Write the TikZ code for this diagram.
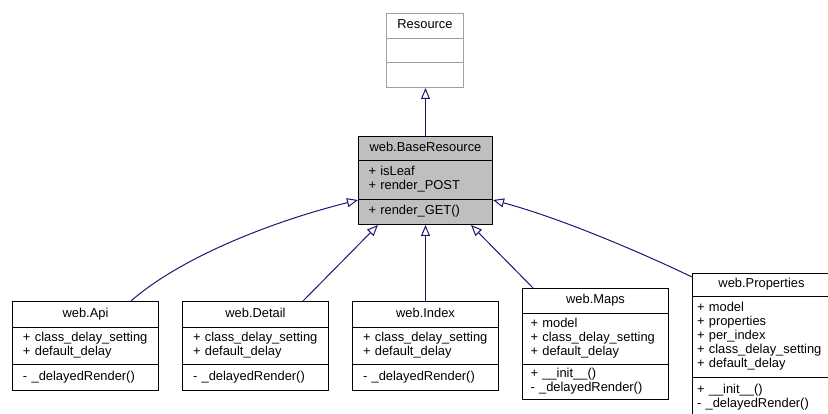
\documentclass[tikz,border=0pt]{standalone}
\usepackage{fontspec}
\setmainfont{Liberation Sans}
\usetikzlibrary{arrows.meta}
\definecolor{edgec}{RGB}{25,25,112}
\definecolor{basefill}{RGB}{191,191,191}
\definecolor{graybd}{RGB}{160,160,160}
\newcommand{\clsfont}{\fontsize{12.9pt}{14pt}\selectfont}
\begin{document}
\begin{tikzpicture}[x=1pt, y=-1pt,
  box/.style={draw=black, line width=1pt, rectangle, anchor=north west, inner ysep=0pt,
    font=\clsfont, execute at begin node=\strut, execute at end node=\strut},
  hd/.style={box, align=center, inner xsep=1pt},
  cp/.style={box, align=left},
  inh/.style={draw=edgec, line width=1pt, -{Triangle[open, length=11pt, width=9pt]}}]
\useasboundingbox (0,0) rectangle (828,414);
\clip (0,0) rectangle (828,414);
% Resource
\node[hd, draw=graybd, minimum width=77pt, minimum height=25pt] (res) at (386,13) {Resource};
\node[cp, draw=graybd, minimum width=77pt, minimum height=24pt] (resA) at (386,38) {};
\node[cp, draw=graybd, minimum width=77pt, minimum height=25pt] (resM) at (386,62) {};
% BaseResource
\node[hd, fill=basefill, minimum width=134pt, minimum height=24pt] (base) at (358,136) {web.BaseResource};
\node[cp, fill=basefill, text width=114pt, inner xsep=10pt, minimum height=39pt] (baseA) at (358,160) {+~isLeaf\\+~render\_POST};
\node[cp, fill=basefill, text width=114pt, inner xsep=10pt, minimum height=25pt] (baseM) at (358,199) {+~render\_GET()};
% Api
\node[hd, minimum width=146pt, minimum height=26pt] (api) at (12,301) {web.Api};
\node[cp, text width=125pt, inner xsep=10.5pt, minimum height=37pt] (apiA) at (12,327) {+~class\_delay\_setting\\+~default\_delay};
\node[cp, text width=125pt, inner xsep=10.5pt, minimum height=26pt] (apiM) at (12,364) {-~\_delayedRender()};
% Detail
\node[hd, minimum width=146pt, minimum height=26pt] (detail) at (182,301) {web.Detail};
\node[cp, text width=125pt, inner xsep=10.5pt, minimum height=37pt] (detailA) at (182,327) {+~class\_delay\_setting\\+~default\_delay};
\node[cp, text width=125pt, inner xsep=10.5pt, minimum height=26pt] (detailM) at (182,364) {-~\_delayedRender()};
% Index
\node[hd, minimum width=146pt, minimum height=26pt] (index) at (352,301) {web.Index};
\node[cp, text width=125pt, inner xsep=10.5pt, minimum height=37pt] (indexA) at (352,327) {+~class\_delay\_setting\\+~default\_delay};
\node[cp, text width=125pt, inner xsep=10.5pt, minimum height=26pt] (indexM) at (352,364) {-~\_delayedRender()};
% Maps
\node[hd, minimum width=146pt, minimum height=25pt] (maps) at (522,288) {web.Maps};
\node[cp, text width=130pt, inner xsep=8pt, minimum height=51pt] (mapsA) at (522,313) {+~model\\+~class\_delay\_setting\\+~default\_delay};
\node[cp, text width=130pt, inner xsep=8pt, minimum height=35pt] (mapsM) at (522,364) {+~\_\_init\_\_()\\-~\_delayedRender()};
% Properties
\node[hd, minimum width=138pt, minimum height=23pt] (props) at (692,273) {web.Properties};
\node[cp, text width=129pt, inner xsep=4.5pt, minimum height=81pt] (propsA) at (692,296) {+~model\\+~properties\\+~per\_index\\+~class\_delay\_setting\\+~default\_delay};
\node[cp, text width=129pt, inner xsep=4.5pt, minimum height=40pt] (propsM) at (692,377) {+~\_\_init\_\_()\\-~\_delayedRender()};
% inheritance edges
\draw[inh] (base.north) -- (base.north |- resM.south);
\draw[inh] ([xshift=-28pt]api.north east) .. controls (180,258) and (270,222) .. (baseA.south west);
\draw[inh] ([xshift=-26pt]detail.north east) -- ([xshift=20pt]baseM.south west);
\draw[inh] (index.north) -- (index.north |- baseM.south);
\draw[inh] ([xshift=11pt]maps.north west) -- ([xshift=-22pt]baseM.south east);
\draw[inh] ([yshift=-4pt]props.north west) .. controls (640,252) and (560,218) .. (baseA.south east);
\end{tikzpicture}
\end{document}
